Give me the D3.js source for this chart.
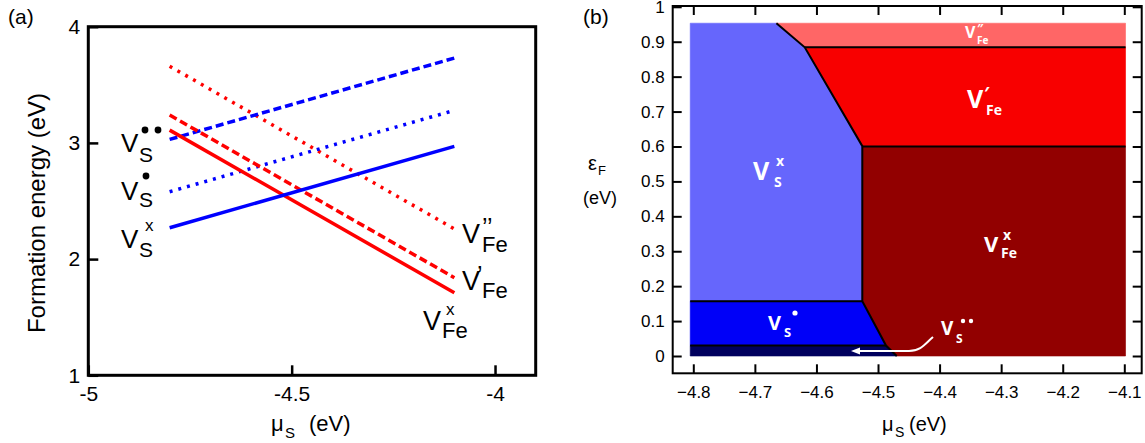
<!DOCTYPE html>
<html>
<head>
<meta charset="utf-8">
<script src="https://cdn.jsdelivr.net/npm/d3@7"></script>
<style>
  body { margin: 0; background: #fff; }
  svg { display: block; }
</style>
</head>
<body>
<svg id="chart"></svg>
<script>
// Panel (a): formation energy at the two ends of the mu_S range
const muEnds      = [-4.8, -4.1];
const vsNeutral   = [2.27, 2.97];
const vsSingle    = [2.58, 3.28];
const vsDouble    = [3.03, 3.73];
const vfeNeutral  = [3.11, 1.71];
const vfeSingle   = [3.24, 1.84];
const vfeDouble   = [3.66, 2.26];
const aTicksX     = [-5, -4.5, -4];
const aTicksY     = [1, 2, 3, 4];

// Panel (b): stability regions, vertices as [mu_S, eps_F]
const regVsNeutral  = [[-4.805, 0.157], [-4.805, 0.953], [-4.665, 0.953], [-4.619, 0.884], [-4.5255, 0.601], [-4.5255, 0.157]];
const regVfeDouble  = [[-4.665, 0.953], [-4.098, 0.953], [-4.098, 0.884], [-4.619, 0.884]];
const regVfeSingle  = [[-4.619, 0.884], [-4.098, 0.884], [-4.098, 0.6], [-4.5255, 0.6]];
const regVfeNeutral = [[-4.5255, 0.6], [-4.098, 0.6], [-4.098, 0], [-4.4697, 0], [-4.487, 0.03], [-4.5255, 0.157]];
const regVsSingle   = [[-4.805, 0.03], [-4.805, 0.157], [-4.5255, 0.157], [-4.487, 0.03]];
const regVsDouble   = [[-4.805, 0], [-4.805, 0.03], [-4.487, 0.03], [-4.4697, 0]];
const borders = [
  [[-4.665, 0.953], [-4.619, 0.884], [-4.5255, 0.601], [-4.5255, 0.157], [-4.487, 0.03], [-4.4697, 0]],
  [[-4.619, 0.884], [-4.098, 0.884]],
  [[-4.5255, 0.6], [-4.098, 0.6]],
  [[-4.805, 0.157], [-4.5255, 0.157]],
  [[-4.805, 0.03], [-4.487, 0.03]]
];
const bTicksX = [-4.8, -4.7, -4.6, -4.5, -4.4, -4.3, -4.2, -4.1];
const bTicksY = [0, 0.1, 0.2, 0.3, 0.4, 0.5, 0.6, 0.7, 0.8, 0.9, 1];

const W = 1145, H = 443;
const sansA = "'Liberation Sans', Arial, sans-serif";
const sansB = "'Open Sans', 'DejaVu Sans', sans-serif";

const svg = d3.select('#chart').attr('width', W).attr('height', H);

// simple positioned text
function txt(g, x, y, s, size, extra = {}) {
  const t = g.append('text')
    .attr('x', x).attr('y', y)
    .attr('font-size', size)
    .attr('font-family', extra.family || sansA)
    .attr('fill', extra.fill || '#000')
    .text(s);
  if (extra.weight) t.attr('font-weight', extra.weight);
  if (extra.anchor) t.attr('text-anchor', extra.anchor);
  return t;
}

// one label made of pieces (main letter, sub, sup) as tspans
function defectLabel(g, parts, extra = {}) {
  const t = g.append('text')
    .attr('font-family', extra.family || sansA)
    .attr('fill', extra.fill || '#000');
  if (extra.weight) t.attr('font-weight', extra.weight);
  parts.forEach(p => {
    t.append('tspan')
      .attr('x', p[0]).attr('y', p[1])
      .attr('font-size', p[3])
      .text(p[2]);
  });
  return t;
}

// ================= panel (a) =================
const xa = d3.scaleLinear().domain([-5, -3.9]).range([88.3, 535.7]);
const ya = d3.scaleLinear().domain([1, 4]).range([375.3, 26.7]);
const ga = svg.append('g');

const seriesA = [
  { vals: vfeDouble,  color: '#ff0000', dash: '3,6' },
  { vals: vsDouble,   color: '#0000ff', dash: '8,4' },
  { vals: vsSingle,   color: '#0000ff', dash: '3,6' },
  { vals: vfeSingle,  color: '#ff0000', dash: '8,4' },
  { vals: vfeNeutral, color: '#ff0000', dash: null },
  { vals: vsNeutral,  color: '#0000ff', dash: null }
];
const lineA = d3.line().x(d => xa(d[0])).y(d => ya(d[1]));

ga.selectAll('path.serie')
  .data(seriesA)
  .enter()
  .append('path')
    .attr('class', 'serie')
    .attr('d', s => lineA(muEnds.map((m, i) => [m, s.vals[i]])))
    .attr('fill', 'none')
    .attr('stroke', s => s.color)
    .attr('stroke-width', 3.5)
    .attr('stroke-dasharray', s => s.dash);

// axes with inward ticks
ga.append('g')
  .attr('transform', `translate(0,${ya(1)})`)
  .call(d3.axisBottom(xa).tickValues(aTicksX).tickSize(-10).tickPadding(11).tickFormat(d => String(d)))
  .call(g => g.select('.domain').remove())
  .call(g => g.selectAll('line').attr('stroke-width', 2.5))
  .attr('font-size', 21).attr('font-family', sansA);

ga.append('g')
  .attr('transform', `translate(${xa(-5)},0)`)
  .call(d3.axisLeft(ya).tickValues(aTicksY).tickSize(-10).tickPadding(8).tickFormat(d => String(d)))
  .call(g => g.select('.domain').remove())
  .call(g => g.selectAll('line').attr('stroke-width', 2.5))
  .attr('font-size', 21).attr('font-family', sansA);

ga.append('rect')
  .attr('x', xa(-5)).attr('y', ya(4))
  .attr('width', xa(-3.9) - xa(-5)).attr('height', ya(1) - ya(4))
  .attr('fill', 'none').attr('stroke', '#000').attr('stroke-width', 3);

txt(ga, 8, 24, '(a)', 21);

// titles
ga.append('text')
  .attr('transform', 'translate(45,213) rotate(-90)')
  .attr('text-anchor', 'middle')
  .attr('font-size', 24).attr('font-family', sansA)
  .text('Formation energy (eV)');
defectLabel(ga, [[271, 431, 'μ', 22], [285, 438, 'S', 15], [309, 431, '(eV)', 22]]);

// defect labels (a)
defectLabel(ga, [[121, 152, 'V', 26], [139, 162, 'S', 21]]);
ga.append('circle').attr('cx', 145).attr('cy', 130).attr('r', 3.4);
ga.append('circle').attr('cx', 158).attr('cy', 130).attr('r', 3.4);

defectLabel(ga, [[121, 200, 'V', 26], [139, 207, 'S', 21]]);
ga.append('circle').attr('cx', 146).attr('cy', 176).attr('r', 3.4);

defectLabel(ga, [[121, 248, 'V', 26], [139, 257, 'S', 21], [145, 231, 'x', 17]]);

defectLabel(ga, [[462, 243, 'V', 27], [482, 252, 'Fe', 22], [482, 236, '’’', 25]]);
defectLabel(ga, [[462, 290, 'V', 27], [482, 298, 'Fe', 22], [477, 284, '’', 25]]);
defectLabel(ga, [[423, 330, 'V', 27], [442, 338, 'Fe', 22], [446, 315, 'x', 17]]);

// ================= panel (b) =================
const xb = d3.scaleLinear().domain([-4.8, -4.1]).range([693.3, 1124.3]);
const yb = d3.scaleLinear().domain([0, 1]).range([356, 6.8]);
const gb = svg.append('g');

const regions = [
  { pts: regVsNeutral,  color: '#6666fc' },
  { pts: regVfeDouble,  color: '#ff6666' },
  { pts: regVfeSingle,  color: '#f80000' },
  { pts: regVfeNeutral, color: '#920000' },
  { pts: regVsSingle,   color: '#0000f8' },
  { pts: regVsDouble,   color: '#00005e' }
];
const lineB = d3.line().x(d => xb(d[0])).y(d => yb(d[1]));

gb.selectAll('path.region')
  .data(regions)
  .enter()
  .append('path')
    .attr('class', 'region')
    .attr('d', r => lineB(r.pts) + 'Z')
    .attr('fill', r => r.color)
    .attr('stroke', r => r.color)
    .attr('stroke-width', 0.6);

gb.selectAll('path.border')
  .data(borders)
  .enter()
  .append('path')
    .attr('class', 'border')
    .attr('d', lineB)
    .attr('fill', 'none')
    .attr('stroke', '#000')
    .attr('stroke-width', 2);

const fmtY = d => (d === 0 || d === 1) ? String(d) : d.toFixed(1);
const fmtX = d3.format('.1f');
const frameL = 672.7, frameR = 1141.7, frameT = 6, frameB = 373.3;

gb.append('g')
  .attr('transform', `translate(0,${frameB})`)
  .call(d3.axisBottom(xb).tickValues(bTicksX).tickSize(-9).tickPadding(13).tickFormat(fmtX))
  .call(g => g.select('.domain').remove())
  .call(g => g.selectAll('line').attr('stroke-width', 2))
  .attr('font-size', 17).attr('font-family', sansA);

gb.append('g')
  .attr('transform', `translate(0,${frameT})`)
  .call(d3.axisTop(xb).tickValues(bTicksX).tickSize(-9).tickFormat(''))
  .call(g => g.select('.domain').remove())
  .call(g => g.selectAll('line').attr('stroke-width', 2));

gb.append('g')
  .attr('transform', `translate(${frameL},0)`)
  .call(d3.axisLeft(yb).tickValues(bTicksY).tickSize(-9).tickPadding(8).tickFormat(fmtY))
  .call(g => g.select('.domain').remove())
  .call(g => g.selectAll('line').attr('stroke-width', 2))
  .attr('font-size', 17).attr('font-family', sansA);

gb.append('g')
  .attr('transform', `translate(${frameR},0)`)
  .call(d3.axisRight(yb).tickValues(bTicksY).tickSize(-9).tickFormat(''))
  .call(g => g.select('.domain').remove())
  .call(g => g.selectAll('line').attr('stroke-width', 2));

gb.append('rect')
  .attr('x', frameL).attr('y', frameT)
  .attr('width', frameR - frameL).attr('height', frameB - frameT)
  .attr('fill', 'none').attr('stroke', '#000').attr('stroke-width', 2);

txt(gb, 583, 24, '(b)', 21);

// titles
defectLabel(gb, [[882, 431, 'μ', 20], [895, 437, 'S', 14], [909, 431, '(eV)', 20]]);
defectLabel(gb, [[588, 170, 'ε', 20], [598, 175, 'F', 13]]);
txt(gb, 600, 204, '(eV)', 18, { anchor: 'middle' });

// region labels (white, bold)
const wb = { fill: '#fff', weight: 'bold', family: sansB };
defectLabel(gb, [[753, 180, 'V', 25], [774, 187, 'S', 14], [776, 166, 'x', 14]], wb);
defectLabel(gb, [[967, 108, 'V', 25], [986, 115, 'Fe', 14], [984, 100, '′', 18]], wb);
defectLabel(gb, [[965, 38, 'V', 16], [977, 44, 'Fe', 10], [977, 33, '″', 12]], wb);
defectLabel(gb, [[984, 252, 'V', 22], [1001, 258, 'Fe', 14], [1003, 240, 'x', 14]], wb);

defectLabel(gb, [[768, 330, 'V', 20], [784, 337, 'S', 13]], wb);
gb.append('circle').attr('cx', 795).attr('cy', 313).attr('r', 2.6).attr('fill', '#fff');

defectLabel(gb, [[941, 335, 'V', 19], [956, 343, 'S', 12]], wb);
gb.append('circle').attr('cx', 963).attr('cy', 321).attr('r', 2.2).attr('fill', '#fff');
gb.append('circle').attr('cx', 971).attr('cy', 321).attr('r', 2.2).attr('fill', '#fff');

// arrow pointing to the thin V_S** band
gb.append('path')
  .attr('d', 'M933,337 C925,344 921,351 909,351 L858,351')
  .attr('fill', 'none').attr('stroke', '#fff').attr('stroke-width', 2);
gb.append('path')
  .attr('d', 'M851,351 L860,347.5 L860,354.5 Z')
  .attr('fill', '#fff');
</script>
</body>
</html>
